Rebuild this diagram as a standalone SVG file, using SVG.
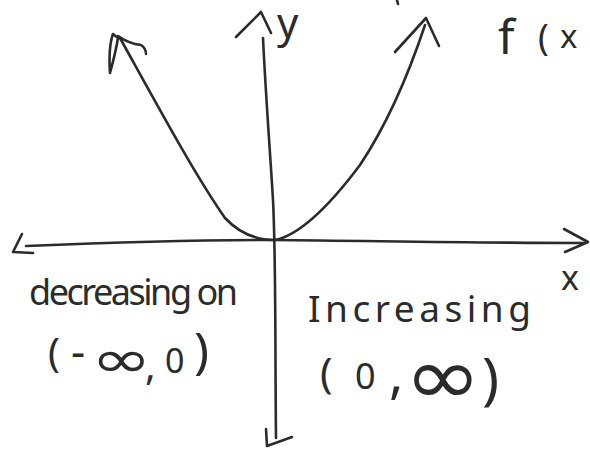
<svg xmlns="http://www.w3.org/2000/svg" width="590" height="452" viewBox="0 0 590 452">
<style>
.s{fill:none;stroke:#2b2b2b;stroke-width:2.6;stroke-linecap:round;stroke-linejoin:round}
.t{fill:#2b2b2b;font-family:"Noto Sans","DejaVu Sans",sans-serif;font-weight:normal}
.inf{fill:#2b2b2b;font-family:"DejaVu Sans","Noto Sans",sans-serif;font-weight:normal}
</style>
<rect width="590" height="452" fill="#ffffff"/>
<g id="y-axis">
<path class="s" d="M263,38 C266,100 270,150 273,200 C276,260 275,340 276,438"/>
<path class="s" d="M236,37 L261,12 L271,33"/>
<path class="s" d="M266,429 L267,446 L292,437"/>
<text class="t" x="277" y="38" font-size="42">y</text>
</g>
<g id="x-axis">
<path class="s" d="M26,246 C100,243 200,240 275,240 C380,241 480,243 585,243"/>
<path class="s" d="M22,234 L13,252 L33,253"/>
<path class="s" d="M564,229 L588,242 L565,252"/>
<text class="t" x="561" y="290" font-size="34">x</text>
</g>
<g id="parabola">
<path class="s" d="M275,240 C255,240 238,232 225,218 C195,175 160,110 120,38"/>
<path class="s" d="M110,73 C109,58 109,45 113,34 L118,38 C116,50 113,62 110,73"/>
<path class="s" d="M118,36 C125,41 132,44 141,45 C144,47 146,50 146,54"/>
<path class="s" d="M275,240 C300,235 330,205 360,165 C390,120 410,70 425,25"/>
<path class="s" d="M395,52 L426,18 L439,46"/>
</g>
<g id="labels">
<path class="s" d="M397,0 L398,4"/>
<text class="t" x="498" y="54" font-size="48">f</text>
<text class="t" x="538" y="50" font-size="36">(</text>
<text class="t" x="560" y="48" font-size="33">x</text>
<text class="t" x="29" y="305" font-size="36" textLength="209" lengthAdjust="spacing">decreasing on</text>
<text class="t" x="48" y="367" font-size="40">(</text>
<text class="t" x="71" y="367" font-size="44">-</text>
<text class="inf" transform="translate(91,377) scale(1.4,1)" font-size="52">∞</text>
<text class="t" x="145" y="380" font-size="40">,</text>
<text class="t" x="165" y="373" font-size="34">0</text>
<text class="t" x="194" y="368" font-size="50">)</text>
<text class="t" x="308" y="322" font-size="37" textLength="223" lengthAdjust="spacing">Increasing</text>
<text class="t" x="320" y="388" font-size="42">(</text>
<text class="t" x="355" y="389" font-size="36">0</text>
<text class="t" x="389" y="393" font-size="54">,</text>
<text class="inf" transform="translate(404,404) scale(1.45,1.25)" font-size="64">∞</text>
<text class="t" x="482" y="399" font-size="57">)</text>
</g>
</svg>
